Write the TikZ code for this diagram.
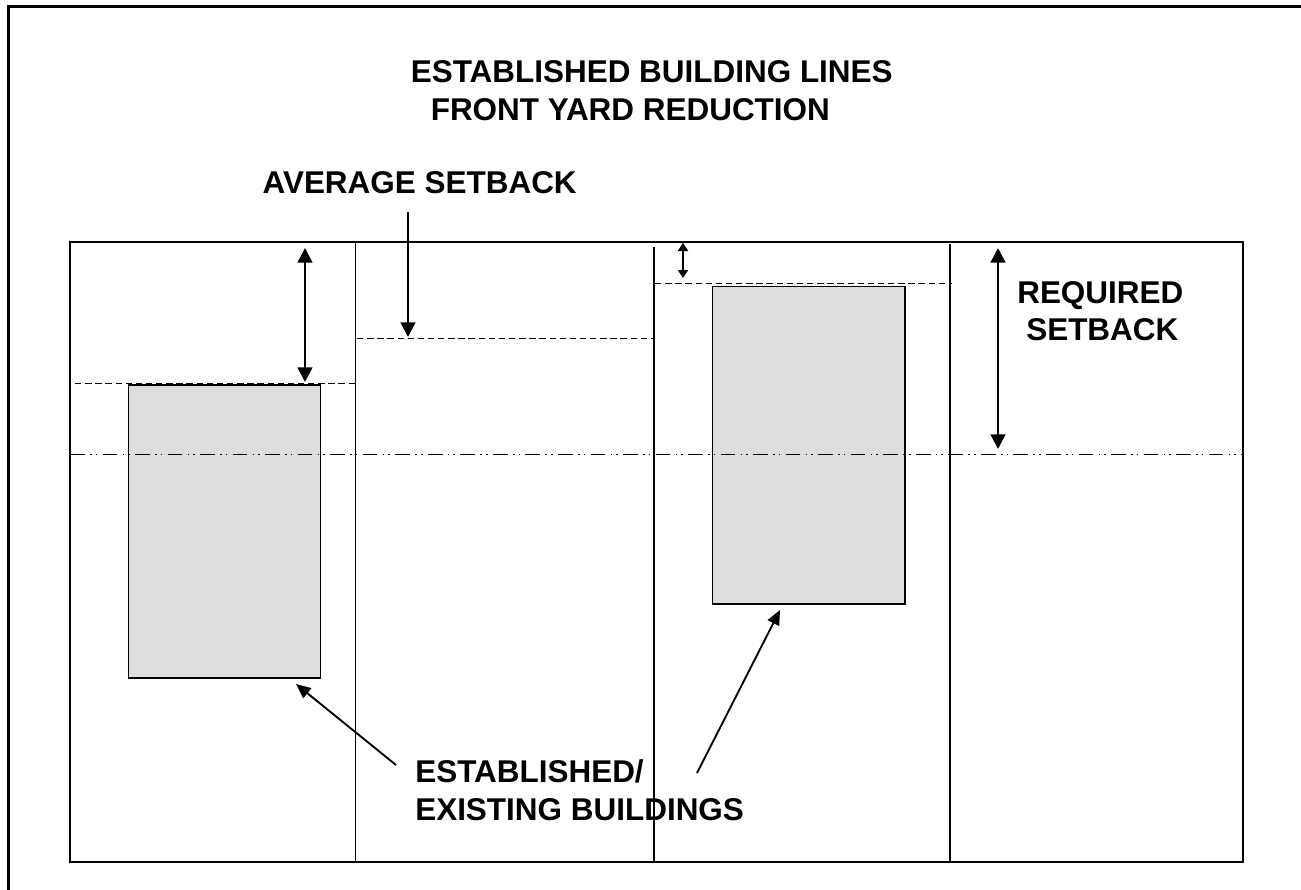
\documentclass[tikz,border=0pt]{standalone}
\usepackage{fontspec}
\setmainfont{Liberation Sans}
\usetikzlibrary{arrows.meta}

\definecolor{bldgfill}{HTML}{DDDDDD}

\tikzset{
  lbl/.style={font=\bfseries\fontsize{23.6}{28}\selectfont, anchor=base west, inner sep=0pt},
  setback/.style={line width=1.9pt, {Triangle[length=11pt,width=11pt]}-{Triangle[length=11pt,width=11pt]}},
  pointer/.style={line width=1.4pt, -{Triangle[length=11pt,width=9.5pt]}},
  bldg/.style={draw, line width=1pt, fill=bldgfill},
  lotline/.style={line width=1pt},
  bline/.style={line width=1pt, dash pattern=on 4.8pt off 2.8pt},
  rowline/.style={line width=1.4pt, dash pattern=on 11pt off 4pt on 1.2pt off 3pt on 1.2pt off 4pt},
}

\begin{document}
\begin{tikzpicture}[x=0.75pt, y=-0.75pt]
    \useasboundingbox (0,0) rectangle (1301,889);

    % page frame
    \draw[line width=1.6pt] (8.5,895) -- (8.5,6.5) -- (1310,6.5);

    % lots
    \draw[line width=1.5pt] (70,242) rectangle (1243,862);
    \draw[lotline] (355.5,242) -- (355.5,862);
    \draw[lotline] (654,247) -- (654,862);
    \draw[lotline] (950,244) -- (950,862);

    % buildings
    \draw[bldg] (128.5,385) rectangle (320.5,678);
    \draw[bldg] (712.5,286.5) rectangle (905,604);

    % building lines
    \draw[bline] (75,383.5) -- (358,383.5);
    \draw[bline] (357,338.5) -- (653,338.5);
    \draw[bline] (655,283.5) -- (952,283.5);
    \draw[rowline] (70,454.5) -- (1243,454.5);

    % setbacks
    \draw[setback] (305,248) -- (305,382);
    \draw[line width=1.7pt, -{Triangle[length=11pt,width=11pt]}] (408,212) -- (408,337);
    \draw[line width=1.4pt, {Triangle[length=6pt,width=7.5pt]}-{Triangle[length=6pt,width=7.5pt]}] (683,243) -- (683,278);
    \draw[setback] (998,248) -- (998,449);

    % labels
    \node[lbl] (title) at (410.5,82.7) {ESTABLISHED BUILDING LINES};
    \node[lbl] (subtitle) at (430.5,120) {FRONT YARD REDUCTION};
    \node[lbl, anchor=base east] (avg) at (577,193.3) {AVERAGE SETBACK};
    \node[lbl] (req) at (1017,303.3) {REQUIRED};
    \node[lbl] (req2) at (1026,340) {SETBACK};
    \node[lbl] (est) at (415,782.7) {ESTABLISHED/};
    \node[lbl] (est2) at (415,820) {EXISTING BUILDINGS};

    \coordinate (p1) at (396,765);
    \coordinate (p2) at (697,773);
    \draw[pointer] (p1) -- (296,684);
    \draw[pointer] (p2) -- (780,610);
\end{tikzpicture}
\end{document}
